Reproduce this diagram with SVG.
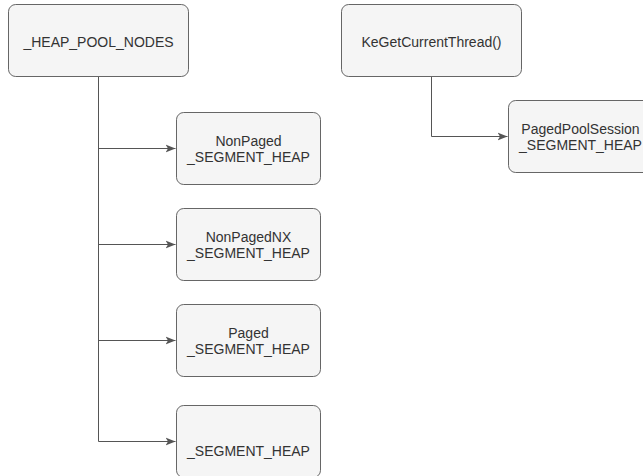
<svg xmlns="http://www.w3.org/2000/svg" width="643" height="476" viewBox="0 0 643 476">
<defs>
<style>
.node rect{fill:#f5f5f5;stroke:#666666;stroke-width:1}
.node text{font-family:"Liberation Sans",Arial,sans-serif;font-size:14px;fill:#333333;text-anchor:middle}
.edge{fill:none;stroke:#555555;stroke-width:1}
</style>
<marker id="arr" viewBox="0 0 10 10" refX="10" refY="5" markerWidth="10" markerHeight="10" markerUnits="userSpaceOnUse" orient="auto">
<path d="M0,1 L10,5 L0,9 L2.5,5 Z" fill="#555555"/>
</marker>
</defs>
<rect width="643" height="476" fill="#ffffff"/>
<g id="connectors">
<path class="edge" d="M98.5,76.5 V441.5"/>
<path class="edge" d="M98.5,148.5 H175.5" marker-end="url(#arr)"/>
<path class="edge" d="M98.5,244.5 H175.5" marker-end="url(#arr)"/>
<path class="edge" d="M98.5,340.5 H175.5" marker-end="url(#arr)"/>
<path class="edge" d="M98.5,441.5 H175.5" marker-end="url(#arr)"/>
<path class="edge" d="M431.5,76.5 V136.5 H507.5" marker-end="url(#arr)"/>
</g>
<g id="heap_pool_nodes" class="node">
<rect x="8.5" y="4.5" width="180" height="72" rx="7.2"/>
<text x="98.5" y="47">_HEAP_POOL_NODES</text>
</g>
<g id="nonpaged" class="node">
<rect x="176.5" y="112.5" width="144" height="72" rx="7.2"/>
<text x="248.5" y="146">NonPaged</text>
<text x="248.5" y="162">_SEGMENT_HEAP</text>
</g>
<g id="nonpagednx" class="node">
<rect x="176.5" y="208.5" width="144" height="72" rx="7.2"/>
<text x="248.5" y="242">NonPagedNX</text>
<text x="248.5" y="258">_SEGMENT_HEAP</text>
</g>
<g id="paged" class="node">
<rect x="176.5" y="304.5" width="144" height="72" rx="7.2"/>
<text x="248.5" y="338">Paged</text>
<text x="248.5" y="354">_SEGMENT_HEAP</text>
</g>
<g id="segment_heap" class="node">
<rect x="176.5" y="405.5" width="144" height="72" rx="7.2"/>
<text x="248.5" y="456">_SEGMENT_HEAP</text>
</g>
<g id="kegetcurrentthread" class="node">
<rect x="341.5" y="4.5" width="180" height="72" rx="7.2"/>
<text x="431.5" y="47">KeGetCurrentThread()</text>
</g>
<g id="pagedpoolsession" class="node">
<rect x="508.5" y="100.5" width="144" height="72" rx="7.2"/>
<text x="580.5" y="134">PagedPoolSession</text>
<text x="580.5" y="150">_SEGMENT_HEAP</text>
</g>
</svg>
